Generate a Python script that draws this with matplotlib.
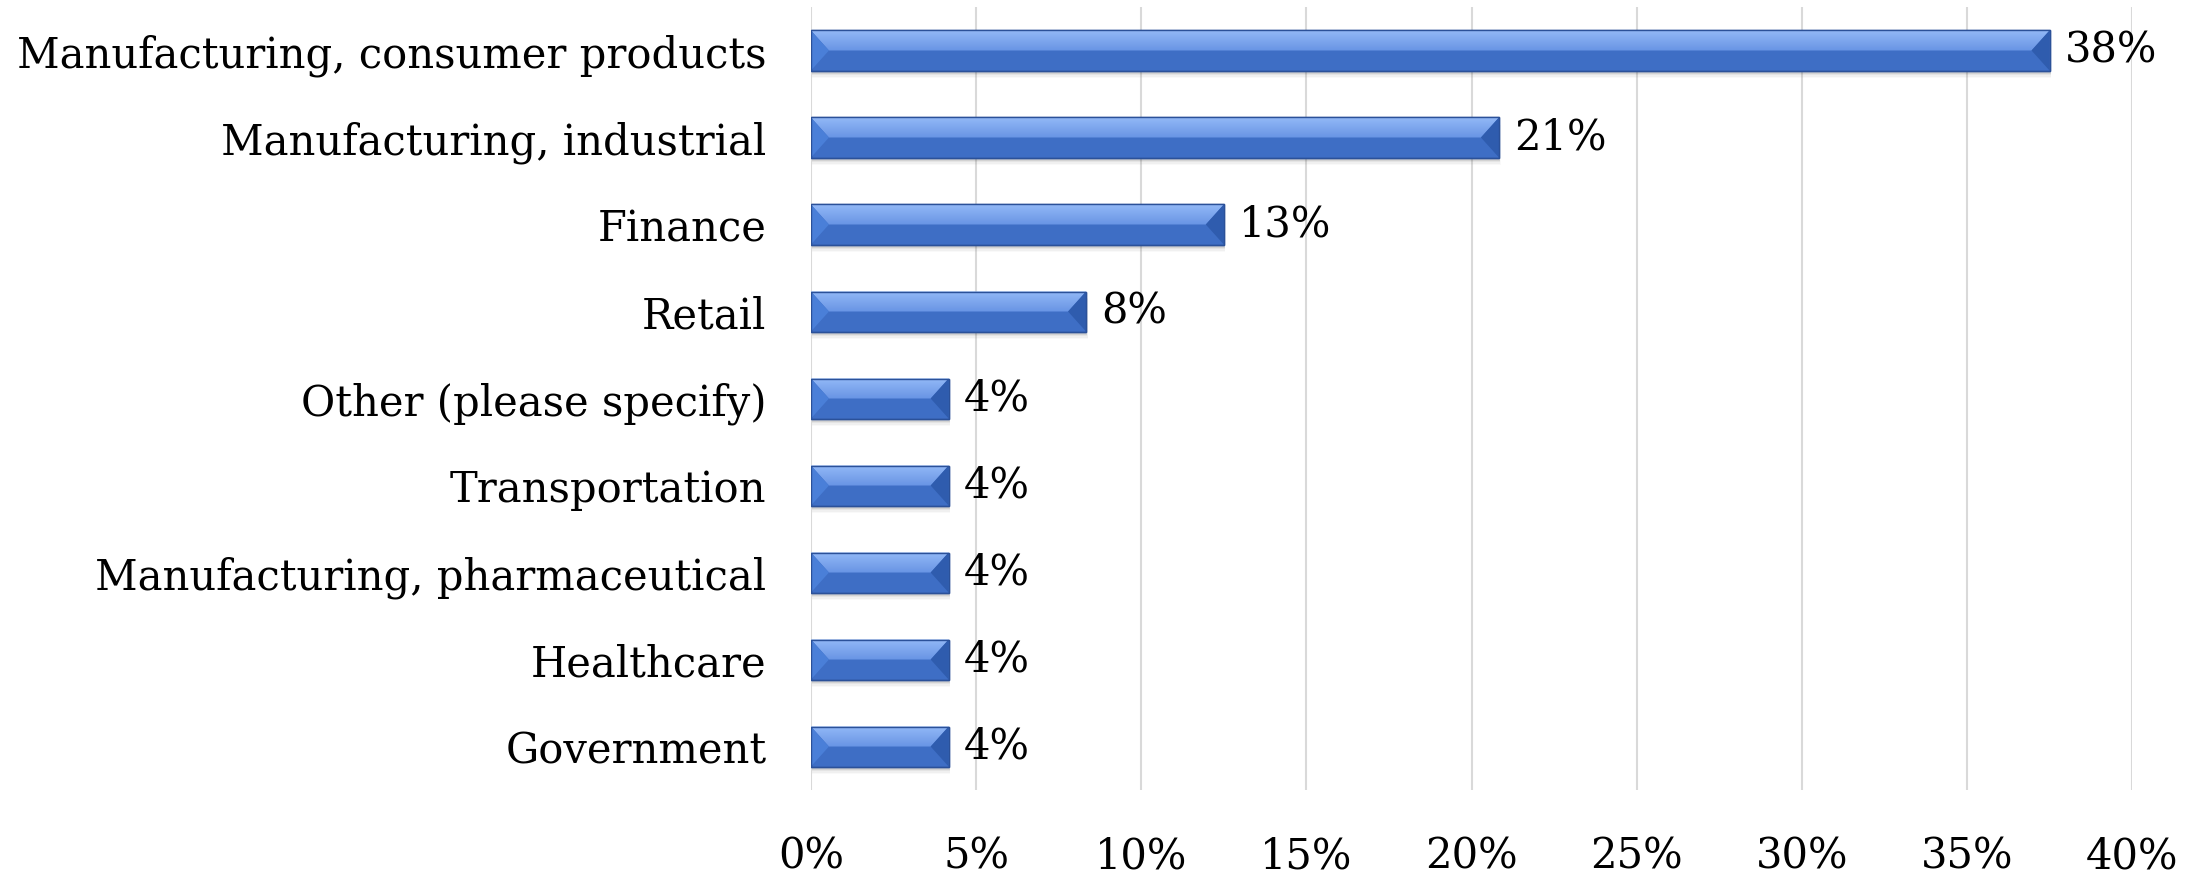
import matplotlib
matplotlib.use("Agg")
import matplotlib.pyplot as plt
import numpy as np
from matplotlib.patches import Polygon

# industry share of respondents (n = 24)
industries = [
    "Manufacturing, consumer products",
    "Manufacturing, industrial",
    "Finance",
    "Retail",
    "Other (please specify)",
    "Transportation",
    "Manufacturing, pharmaceutical",
    "Healthcare",
    "Government",
]
shares = [37.5, 20.83, 12.5, 8.33, 4.17, 4.17, 4.17, 4.17, 4.17]
x_ticks = [0, 5, 10, 15, 20, 25, 30, 35, 40]

plt.rcParams["font.family"] = ["DejaVu Serif"]
FS = 30

fig = plt.figure(figsize=(22.06, 8.75), dpi=100)
ax = fig.add_axes([0.3676, 0.0971, 0.5989, 0.8949])

ypos = np.arange(len(industries))
bar_h = 0.46
bars = ax.barh(ypos, shares, height=bar_h, color="#3e6ec5", zorder=3,
               edgecolor="#2b5199", linewidth=1.0)

ax.set_xlim(0, 40)
ax.set_ylim(len(industries) - 0.5, -0.5)

# bevel: pixel size of the end triangles converted to data units
px_per_unit = (ax.get_window_extent().width) / 40.0
bev = 18.0 / px_per_unit

grad = np.linspace(0, 1, 64).reshape(-1, 1)
top_c = np.array(matplotlib.colors.to_rgb("#93b9f7"))
mid_c = np.array(matplotlib.colors.to_rgb("#6894e4"))
grad_img = top_c * (1 - grad[..., None]) + mid_c * grad[..., None]
grad_img = grad_img.reshape(64, 1, 3)

for rect, v in zip(bars, shares):
    x0 = rect.get_x()
    x1 = x0 + rect.get_width()
    yt = rect.get_y()            # visually top (axis inverted)
    yb = yt + rect.get_height()  # visually bottom
    ym = (yt + yb) / 2

    # soft shadow under the bar
    for k, a in zip(range(1, 6), [0.16, 0.12, 0.08, 0.05, 0.03]):
        off = k * 0.018
        ax.add_patch(plt.Rectangle((x0 + 0.03, yt + off), (x1 - x0) + 0.02 * k / 5,
                                   yb - yt, facecolor="#555555", alpha=a,
                                   edgecolor="none", zorder=2))

    # upper face with gradient
    upper = Polygon([(x0, yt), (x1, yt), (x1 - bev, ym), (x0 + bev, ym)],
                    closed=True, facecolor="none", edgecolor="none", zorder=4)
    ax.add_patch(upper)
    im = ax.imshow(grad_img, extent=(x0, x1, ym, yt), aspect="auto",
                   zorder=4, interpolation="bilinear")
    im.set_clip_path(upper)

    # left and right bevel ends
    ax.add_patch(Polygon([(x0, yt), (x0 + bev, ym), (x0, yb)], closed=True,
                         facecolor="#4a7fd8", edgecolor="none", zorder=5))
    ax.add_patch(Polygon([(x1, yt), (x1 - bev, ym), (x1, yb)], closed=True,
                         facecolor="#2f5cae", edgecolor="none", zorder=5))
    ax.add_patch(plt.Rectangle((x0, yt), x1 - x0, yb - yt, facecolor="none",
                               edgecolor="#2b5199", linewidth=1.0, zorder=6))

    ax.text(x1 + 0.45, ym, f"{int(v + 0.5)}%", va="center", ha="left",
            fontsize=FS, color="black", zorder=7)

ax.set_xlim(0, 40)
ax.set_ylim(len(industries) - 0.5, -0.5)

ax.set_xticks(x_ticks)
ax.set_xticklabels([f"{t}%" for t in x_ticks], fontsize=FS)
ax.set_yticks(ypos)
ax.set_yticklabels(industries, fontsize=FS)
ax.tick_params(axis="x", length=0, pad=33)
ax.tick_params(axis="y", length=0, pad=32)

ax.grid(axis="x", color="#d9d9d9", linewidth=1.5, zorder=0)
ax.set_axisbelow(True)
for s in ax.spines.values():
    s.set_visible(False)

fig.savefig("out.png", dpi=100, facecolor="white")
